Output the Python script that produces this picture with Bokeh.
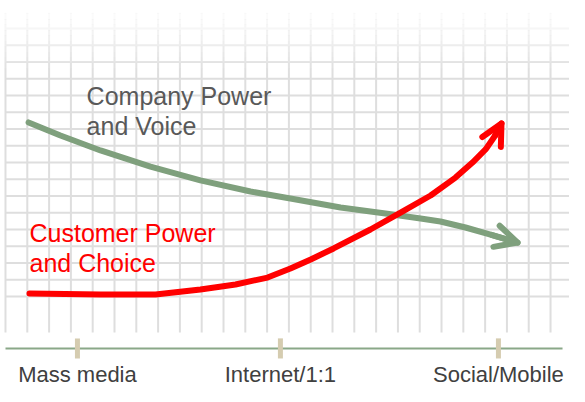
from bokeh.plotting import figure
from bokeh.models import Range1d, Arrow, OpenHead
from bokeh.core.properties import value
from bokeh.embed import file_html
from bokeh.resources import INLINE

# Data in grid units (one unit = one grid cell)
grid_x = list(range(27))
grid_y = list(range(17))

company_x = [1.06, 2.52, 4.36, 6.65, 8.94, 11.24, 13.07, 15.37, 17.43, 19.04, 19.95, 21.10, 22.25, 23.49]
company_y = [10.39, 9.61, 8.72, 7.76, 6.93, 6.27, 5.85, 5.31, 4.96, 4.66, 4.48, 4.12, 3.70, 3.22]

customer_x = [1.10, 4.36, 6.88, 8.94, 10.55, 12.02, 13.07, 14.00, 15.05, 16.74, 18.12, 19.50, 20.64, 21.42, 22.02, 22.43, 22.75]
customer_y = [0.18, 0.12, 0.12, 0.42, 0.72, 1.13, 1.67, 2.21, 2.87, 4.00, 5.01, 6.03, 7.10, 8.00, 8.78, 9.55, 10.33]

tick_x = [3.30, 12.61, 22.61]
tick_labels = ["Mass media", "Internet/1:1", "Social/Mobile"]

company_label = ["Company Power", "and Voice"]
customer_label = ["Customer Power", "and Choice"]

FONT = value("Liberation Sans")
GREEN = "#7fa07d"
RED = "#ff0000"

p = figure(width=569, height=386,
           x_range=Range1d(-0.229, 25.87), y_range=Range1d(-5.373, 17.672),
           output_backend="svg", toolbar_location=None,
           x_axis_location=None, y_axis_location=None, min_border=0)
p.grid.visible = False
p.outline_line_color = None
p.background_fill_color = "white"
p.border_fill_color = "white"

# grid
p.segment(x0=grid_x, x1=grid_x, y0=[-2.15] * len(grid_x), y1=[17.0] * len(grid_x),
          line_color="#dedede", line_width=2)
p.segment(x0=[0] * len(grid_y), x1=[26.2] * len(grid_y), y0=grid_y, y1=grid_y,
          line_color="#dedede", line_width=2)

# top fade
n = 12
top, bottom = 17.2, 13.3
step = (top - bottom) / n
for i in range(n):
    y_top = top - i * step
    p.quad(left=-1, right=27, top=y_top, bottom=y_top - step,
           fill_color="white", fill_alpha=1 - (i + 0.5) / n, line_color=None)

# baseline axis
p.segment(x0=[0], x1=[25.55], y0=[-3.10], y1=[-3.10], line_color="#8aa888", line_width=2)
p.segment(x0=tick_x, x1=tick_x, y0=[-2.5] * 3, y1=[-3.7] * 3, line_color="#d5ccb0", line_width=5)
p.text(x=tick_x, y=[-4.66] * 3, text=tick_labels, text_align="center",
       text_baseline="alphabetic", text_font=FONT, text_font_size="22px", text_color="#404040")

# curves
p.line(company_x, company_y, line_color=GREEN, line_width=6, line_cap="round", line_join="round")
p.add_layout(Arrow(end=OpenHead(size=22, line_width=6, line_color=GREEN, line_cap="round", line_join="round"),
                   x_start=company_x[-2], y_start=company_y[-2], x_end=company_x[-1], y_end=company_y[-1],
                   line_color=GREEN, line_width=6))
p.line(customer_x, customer_y, line_color=RED, line_width=6, line_cap="round", line_join="round")
p.add_layout(Arrow(end=OpenHead(size=21, line_width=6, line_color=RED, line_cap="round", line_join="round"),
                   x_start=customer_x[-2], y_start=customer_y[-2], x_end=customer_x[-1], y_end=customer_y[-1],
                   line_color=RED, line_width=6))

# labels
p.text(x=[3.72, 3.72], y=[12.0, 10.15], text=company_label, text_baseline="alphabetic",
       text_font=FONT, text_font_size="25px", text_color="#595959")
p.text(x=[1.10, 1.10], y=[3.82, 2.03], text=customer_label, text_baseline="alphabetic",
       text_font=FONT, text_font_size="25px", text_color=RED)

open("out.html", "w").write(file_html(p, INLINE))
